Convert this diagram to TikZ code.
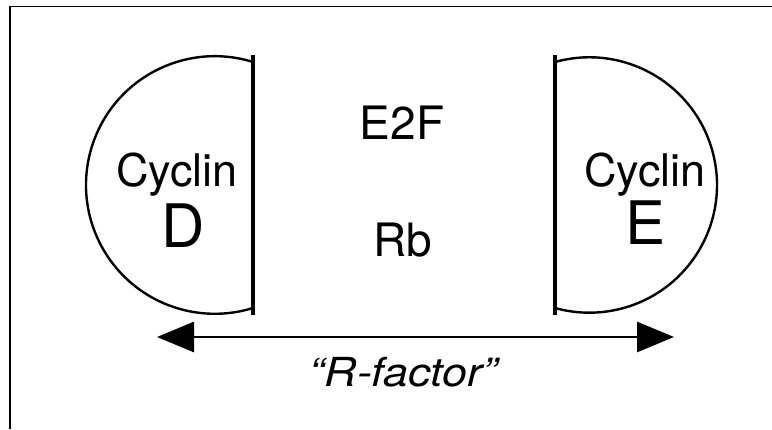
\documentclass[tikz,border=0pt]{standalone}
\usepackage{graphicx}
\usepackage{fontspec}
\setmainfont{TeX Gyre Heros}
\usetikzlibrary{arrows.meta}
\begin{document}
\begin{tikzpicture}[
            x=1pt, y=1pt,
            word/.style={inner sep=0pt, anchor=base, font=\fontsize{45}{54}\selectfont},
            letter/.style={inner sep=0pt, anchor=base, font=\fontsize{60}{72}\selectfont},
            wall/.style={line width=3.2pt},
            shell/.style={line width=2.4pt},
            bigtip/.tip={Triangle[length=37pt,width=30pt]}
        ]
            \useasboundingbox (0,0) rectangle (772,429);
            \draw[line width=1.4pt] (10,0) -- (10,422.5) -- (772,422.5);

            % cyclin D
            \draw[wall] (253,114) -- (253,374);
            \draw[shell] (253,367) arc[start angle=72.75, end angle=287.25, radius=128.8];
            \node[word] (cd) at (177,242) {Cyclin};
            \node[letter] (d) at (183.5,181) {D};

            % cyclin E
            \draw[wall] (555,114) -- (555,374);
            \draw[shell] (555,367) arc[start angle=105.58, end angle=-105.58, radius=127.7];
            \node[word] (ce) at (645,242) {Cyclin};
            \node[letter] (e) at (646,184) {E};

            \node[word,font=\fontsize{46}{55}\selectfont] (e2f) at (402,289) {E2F};
            \node[word,font=\fontsize{46}{55}\selectfont] (rb) at (403,172) {Rb};

            \coordinate (lt) at (157,92);
            \coordinate (rt) at (674,92);
            \draw[line width=2.8pt, bigtip-bigtip] (lt) -- (rt);
            \node[word,font=\fontsize{40}{48}\selectfont\itshape] (rf) at (403.5,42) {\scalebox{1.12}[1]{``R-factor''}};

        \end{tikzpicture}
\end{document}
